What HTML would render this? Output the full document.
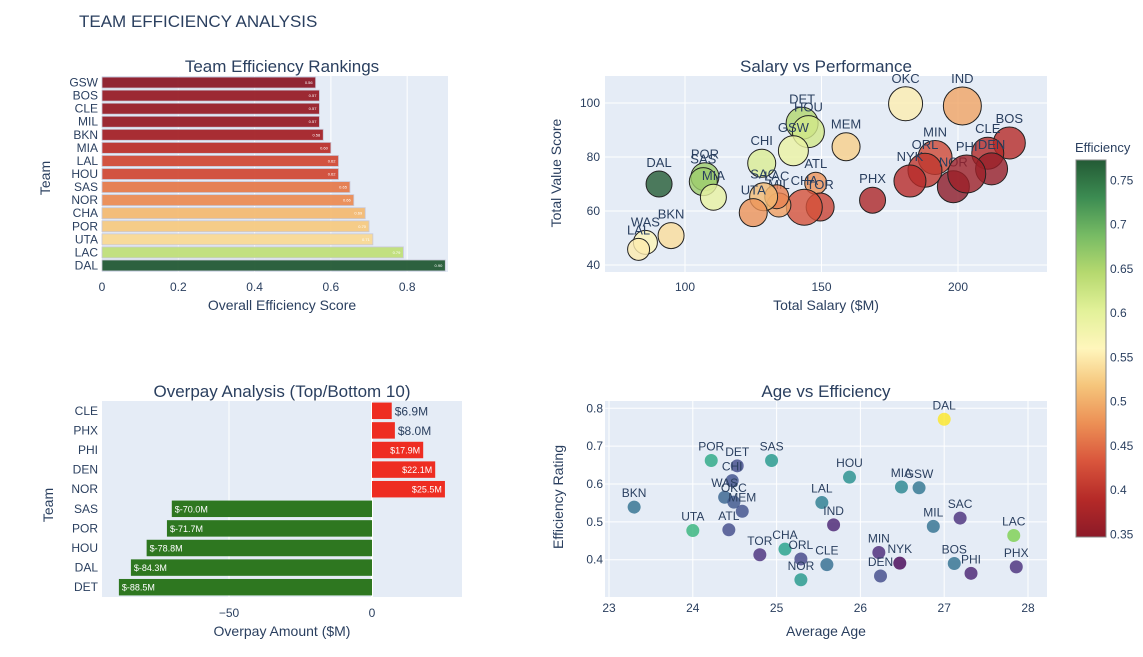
<!DOCTYPE html>
<html><head><meta charset="utf-8"><style>
body{margin:0;background:#fff;font-family:"Liberation Sans",sans-serif}
svg text{font-family:"Liberation Sans",sans-serif;fill:#2a3f5f}
</style></head><body>
<svg id="s" width="1143" height="652" xmlns="http://www.w3.org/2000/svg">
<text x="79" y="27" font-size="17">TEAM EFFICIENCY ANALYSIS</text>
</svg>
<script>
// ---- data: rankings
const rankTeams=["GSW","BOS","CLE","MIL","BKN","MIA","LAL","HOU","SAS","NOR","CHA","POR","UTA","LAC","DAL"];
const rankVals=[0.56,0.57,0.57,0.57,0.58,0.60,0.62,0.62,0.65,0.66,0.69,0.70,0.71,0.79,0.90];
const rankTicks=[0,0.2,0.4,0.6,0.8];
// ---- salary vs performance
const scTeams=["DAL","OKC","IND","BOS","CLE","DEN","MIN","ORL","NYK","NOR","PHI","PHX","MEM","DET","HOU","GSW","CHI","ATL","TOR","CHA","MIL","LAC","SAC","UTA","POR","SAS","MIA","WAS","LAL","BKN"];
const scSalary=[90.5,180.8,201.6,218.8,210.9,212.3,191.6,187.9,182.4,198.3,203.2,168.7,159,142.9,145.2,139.7,128.1,147.9,149.5,143.7,134.4,133.6,128.8,125,107.3,106.7,110.4,85.5,83,94.9];
const scValue=[70,99.7,98.9,85.2,81.4,75.6,79.8,75.1,71.1,69,73.7,64,83.8,92.5,89.4,82.3,77.7,70.3,61.5,61.4,62.2,65.3,65.3,59.4,72.7,70.9,65.1,48.4,45.8,50.9];
const scEff=[0.771,0.552,0.492,0.390,0.387,0.357,0.419,0.402,0.391,0.347,0.364,0.381,0.528,0.648,0.618,0.590,0.609,0.479,0.413,0.428,0.488,0.464,0.510,0.477,0.662,0.662,0.592,0.565,0.551,0.539];
const scSize=[13,17,19,16,16,16,17,17,16,16,19,13,14,16,16,15,14,11,14,18,12,12,14,14,14,14,13,12,11,13];
const scXTicks=[100,150,200];
const scYTicks=[40,60,80,100];
// ---- overpay
const opTeams=["CLE","PHX","PHI","DEN","NOR","SAS","POR","HOU","DAL","DET"];
const opVals=[6.9,8.0,17.9,22.1,25.5,-70.0,-71.7,-78.8,-84.3,-88.5];
const opTicks=[-50,0];
// ---- age vs efficiency
const agTeams=["DAL","POR","DET","CHI","WAS","OKC","MEM","ATL","BKN","UTA","SAS","HOU","LAL","IND","TOR","CHA","ORL","NOR","CLE","MIA","GSW","MIL","SAC","LAC","MIN","NYK","DEN","BOS","PHI","PHX"];
const agAge=[27.0,24.22,24.53,24.47,24.38,24.49,24.59,24.43,23.3,24.0,24.94,25.87,25.54,25.68,24.8,25.1,25.29,25.29,25.6,26.49,26.7,26.87,27.19,27.83,26.22,26.47,26.24,27.12,27.32,27.86];
const agEff=[0.771,0.662,0.648,0.609,0.565,0.552,0.528,0.479,0.539,0.477,0.662,0.618,0.551,0.492,0.413,0.428,0.402,0.347,0.387,0.592,0.590,0.488,0.510,0.464,0.419,0.391,0.357,0.390,0.364,0.381];
const agScore=[0.90,0.68,0.47,0.48,0.52,0.49,0.48,0.47,0.55,0.71,0.64,0.62,0.58,0.40,0.42,0.66,0.46,0.64,0.54,0.60,0.56,0.55,0.42,0.79,0.41,0.35,0.47,0.55,0.40,0.42];
const agXTicks=[23,24,25,26,27,28];
const agYTicks=[0.4,0.5,0.6,0.7,0.8];

const NS="http://www.w3.org/2000/svg";const svg=document.getElementById('s');
function el(t,a,p){const e=document.createElementNS(NS,t);for(const k in a)e.setAttribute(k,a[k]);(p||svg).appendChild(e);return e;}
function txt(x,y,s,a,p){const e=el('text',Object.assign({x:x,y:y},a||{}),p);e.textContent=s;return e;}
function hex(h){return[parseInt(h.slice(1,3),16),parseInt(h.slice(3,5),16),parseInt(h.slice(5,7),16)];}
function scale(stops,t){t=Math.max(0,Math.min(1,t));const n=stops.length-1;const i=Math.min(n-1,Math.floor(t*n));const f=t*n-i;const a=hex(stops[i]),b=hex(stops[i+1]);return 'rgb('+a.map((v,k)=>Math.round(v+(b[k]-v)*f)).join(',')+')';}
const RdYlGn=['#8c1a28','#b52a28','#d9553c','#ec8f55','#f5c47a','#fff6bc','#e2f199','#b6d96f','#77bb64','#3c8c52','#235a35'];
const Viridis=['#440154','#482878','#3e4989','#31688e','#26828e','#1f9e89','#35b779','#6ece58','#b5de2b','#fde725'];
function lin(d0,d1,r0,r1){return v=>r0+(v-d0)/(d1-d0)*(r1-r0);}
function panel(x,y,w,h,name){const r=el('rect',{x:x,y:y,width:w,height:h,fill:'#e5ecf6'});}

// ===== Panel 1: rankings
{const x=lin(0,0.907,102,448);const top=76,bot=272;panel(102,top,346,bot-top,'rankings-plot-area');
 rankTicks.forEach(t=>{if(t>0)el('line',{x1:x(t),x2:x(t),y1:top,y2:bot,stroke:'#fff','stroke-width':1});const e=txt(x(t),291,String(t),{'font-size':12,'text-anchor':'middle'});});
 const step=(bot-top)/rankTeams.length;
 rankTeams.forEach((tm,i)=>{const cy=top+step*(i+0.5);const c=scale(RdYlGn,(rankVals[i]-0.56)/(0.90-0.56));
  const b=el('rect',{x:x(0),y:cy-step*0.42,width:x(rankVals[i])-x(0),height:step*0.84,fill:c,'fill-opacity':0.95,stroke:'#c8c8d8','stroke-width':0.8});
  
  txt(x(rankVals[i])-3,cy+1.5,rankVals[i].toFixed(2),{'font-size':4,'text-anchor':'end',style:'fill:#fff'});
  const l=txt(98,cy+4,tm,{'font-size':12,'text-anchor':'end'});});
 let t=txt(282,72,'Team Efficiency Rankings',{'font-size':17,'text-anchor':'middle'});
 t=txt(282,310,'Overall Efficiency Score',{'font-size':14,'text-anchor':'middle'});
 t=txt(50,178,'Team',{'font-size':14,'text-anchor':'middle',transform:'rotate(-90 50 178)'});}

// ===== Panel 2: salary vs performance
{const x=lin(100,200,685,958);const y=lin(40,100,265,103);const top=76,bot=272,l=605,r=1047;panel(l,top,r-l,bot-top,'salary-plot-area');
 scXTicks.forEach(t=>{el('line',{x1:x(t),x2:x(t),y1:top,y2:bot,stroke:'#fff','stroke-width':1});const e=txt(x(t),291,String(t),{'font-size':12,'text-anchor':'middle'});});
 scYTicks.forEach(t=>{el('line',{x1:l,x2:r,y1:y(t),y2:y(t),stroke:'#fff','stroke-width':1});const e=txt(600,y(t)+4,String(t),{'font-size':12,'text-anchor':'end'});});
 const g=el('g',{});
 scTeams.forEach((tm,i)=>{const cx=x(scSalary[i]),cy=y(scValue[i]),rr=scSize[i];
  const c=el('circle',{cx:cx,cy:cy,r:rr,fill:scale(RdYlGn,(scEff[i]-0.347)/(0.773-0.347)),'fill-opacity':0.8,stroke:'#222','stroke-width':1},g);
  
  txt(cx,cy-rr-4,tm,{'font-size':13,'text-anchor':'middle'},g);});
 let t=txt(826,72,'Salary vs Performance',{'font-size':17,'text-anchor':'middle'});
 t=txt(826,310,'Total Salary ($M)',{'font-size':14,'text-anchor':'middle'});
 t=txt(561,173,'Total Value Score',{'font-size':14,'text-anchor':'middle',transform:'rotate(-90 561 173)'});
 // colorbar
 const cb=lin(0.347,0.773,537,160);const defs=el('defs',{});const lg=el('linearGradient',{id:'cbg',x1:0,y1:1,x2:0,y2:0},defs);
 RdYlGn.forEach((c,k)=>el('stop',{offset:k/(RdYlGn.length-1),'stop-color':c},lg));
 const bar=el('rect',{x:1076,y:160,width:30,height:377,fill:'url(#cbg)',stroke:'#888','stroke-width':1});
 [0.35,0.4,0.45,0.5,0.55,0.6,0.65,0.7,0.75].forEach(v=>{txt(1110,cb(v)+4,String(v),{'font-size':12});});
 t=txt(1075,152,'Efficiency',{'font-size':13});}

// ===== Panel 3: overpay
{const x=lin(-50,0,229,372);const top=401,bot=597,l=102,r=462;panel(l,top,r-l,bot-top,'overpay-plot-area');
 opTicks.forEach(t=>{el('line',{x1:x(t),x2:x(t),y1:top,y2:bot,stroke:'#fff','stroke-width':t===0?2:1});const e=txt(x(t),617,t<0?'\u221250':'0',{'font-size':12,'text-anchor':'middle'});});
 const step=(bot-top)/opTeams.length;
 opTeams.forEach((tm,i)=>{const cy=top+step*(i+0.5);const v=opVals[i];const x0=Math.min(x(0),x(v)),w=Math.abs(x(v)-x(0));
  const b=el('rect',{x:x0,y:cy-step*0.42,width:w,height:step*0.84,fill:v>0?'#ee2d22':'#2e7720'});
  const lab='$'+v.toFixed(1)+'M';
  if(v>0&&w<40)txt(x(v)+3,cy+4.5,lab,{'font-size':12});
  else if(v>0)txt(x(v)-3,cy+3.5,lab,{'font-size':9,'text-anchor':'end',style:'fill:#fff'});
  else txt(x(v)+3,cy+3.5,lab,{'font-size':9,style:'fill:#fff'});
  const l2=txt(98,cy+4,tm,{'font-size':12,'text-anchor':'end'});});
 let t=txt(282,397,'Overpay Analysis (Top/Bottom 10)',{'font-size':17,'text-anchor':'middle'});
 t=txt(282,636,'Overpay Amount ($M)',{'font-size':14,'text-anchor':'middle'});
 t=txt(53,505,'Team',{'font-size':14,'text-anchor':'middle',transform:'rotate(-90 53 505)'});}

// ===== Panel 4: age vs efficiency
{const x=lin(23,28,609,1028);const y=lin(0.4,0.8,559.7,408.3);const top=401,bot=597,l=605,r=1047;panel(l,top,r-l,bot-top,'age-plot-area');
 agXTicks.forEach(t=>{el('line',{x1:x(t),x2:x(t),y1:top,y2:bot,stroke:'#fff','stroke-width':1});const e=txt(x(t),612,String(t),{'font-size':12,'text-anchor':'middle'});});
 agYTicks.forEach(t=>{el('line',{x1:l,x2:r,y1:y(t),y2:y(t),stroke:'#fff','stroke-width':1});const e=txt(603,y(t)+4,t.toFixed(1),{'font-size':12,'text-anchor':'end'});});
 agTeams.forEach((tm,i)=>{const cx=x(agAge[i]),cy=y(agEff[i]);
  const c=el('circle',{cx:cx,cy:cy,r:6.5,fill:scale(Viridis,(agScore[i]-0.35)/(0.90-0.35)),'fill-opacity':0.8});
  
  txt(cx,cy-10,tm,{'font-size':12,'text-anchor':'middle'});});
 let t=txt(826,397,'Age vs Efficiency',{'font-size':17,'text-anchor':'middle'});
 t=txt(826,636,'Average Age',{'font-size':14,'text-anchor':'middle'});
 t=txt(563,497,'Efficiency Rating',{'font-size':14,'text-anchor':'middle',transform:'rotate(-90 563 497)'});}
</script>
</body></html>
